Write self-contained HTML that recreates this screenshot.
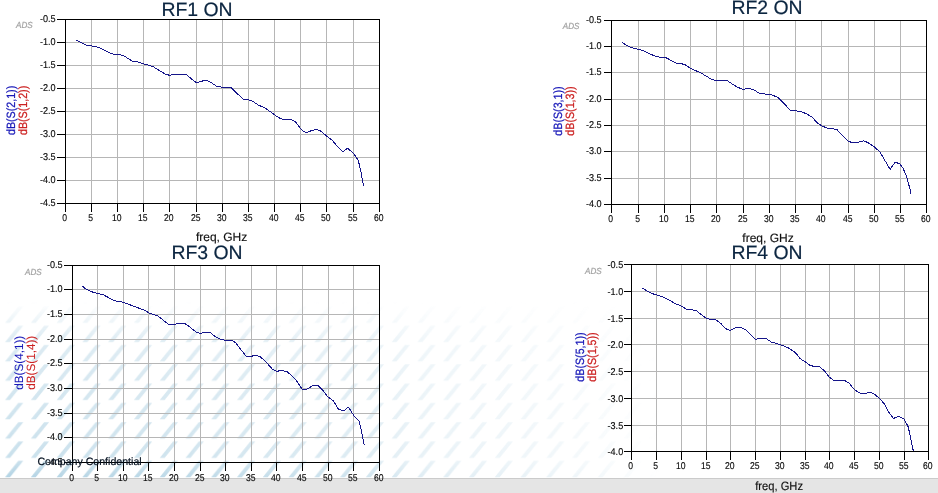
<!DOCTYPE html>
<html lang="en">
<head>
<meta charset="utf-8">
<title>RF ON insertion loss plots</title>
<style>
html,body{margin:0;padding:0;background:#fff;}
body{width:938px;height:493px;overflow:hidden;position:relative;font-family:"Liberation Sans", sans-serif;}
svg{position:absolute;left:0;top:0;display:block;}
text{font-family:"Liberation Sans", sans-serif;text-rendering:geometricPrecision;}
.grid line{stroke:#b6b6b6;stroke-width:1;shape-rendering:crispEdges;}
.axis line,.axis rect{stroke:#000;stroke-width:1.25;fill:none;shape-rendering:crispEdges;}
.tick{font-size:9.9px;fill:#0a0a0a;stroke:#0a0a0a;stroke-width:0.15px;}
.title{font-size:19.4px;fill:#0b2540;stroke:#0b2540;stroke-width:0.2px;}
.xl{font-size:12px;fill:#101010;stroke:#101010;stroke-width:0.15px;}
.yl{font-size:12px;stroke-width:0.25px;}
.ads{font-size:8.8px;font-style:italic;fill:#a2a2a2;stroke:#a2a2a2;stroke-width:0.2px;}
.curve{fill:none;stroke:#15158a;stroke-width:1;stroke-linejoin:round;shape-rendering:crispEdges;}
</style>
</head>
<body>
<svg role="img" aria-label="S-parameter plots" width="938" height="493" viewBox="0 0 938 493">
<defs>
<pattern id="wm" width="25.77" height="19.3" patternUnits="userSpaceOnUse" patternTransform="translate(4.4 440.3)">
<path d="M0.7 17.6 L5.6 17.6 L18.9 1.2 L14 1.2 Z" fill="#a8cde0"/>
</pattern>
<linearGradient id="wgh" x1="0" y1="0" x2="1" y2="0"><stop offset="0" stop-color="#fff" stop-opacity="1"/><stop offset="0.3" stop-color="#fff" stop-opacity="0.85"/><stop offset="0.55" stop-color="#fff" stop-opacity="0.62"/><stop offset="0.64" stop-color="#fff" stop-opacity="0.42"/><stop offset="0.85" stop-color="#fff" stop-opacity="0.24"/><stop offset="1" stop-color="#fff" stop-opacity="0"/></linearGradient>
<linearGradient id="wgv" x1="0" y1="0" x2="0" y2="1"><stop offset="0.06" stop-color="#fff" stop-opacity="0"/><stop offset="0.26" stop-color="#fff" stop-opacity="0.4"/><stop offset="0.55" stop-color="#fff" stop-opacity="0.52"/><stop offset="0.79" stop-color="#fff" stop-opacity="0.58"/><stop offset="0.9" stop-color="#fff" stop-opacity="0.62"/><stop offset="1" stop-color="#fff" stop-opacity="0.92"/></linearGradient>
<mask id="mh" maskUnits="userSpaceOnUse" x="0" y="280" width="660" height="200"><rect x="0" y="280" width="660" height="200" fill="url(#wgh)"/></mask>
<mask id="mv" maskUnits="userSpaceOnUse" x="0" y="280" width="660" height="200"><rect x="0" y="290" width="660" height="190" fill="url(#wgv)"/></mask>
</defs>
<g mask="url(#mh)"><rect x="0" y="285" width="660" height="193" fill="url(#wm)" mask="url(#mv)"/></g>
<rect x="0" y="478" width="938" height="15" fill="#e5e5e5"/>
<rect x="0" y="478" width="938" height="1" fill="#cbcbcb"/>
<g class="grid">
<line x1="91.5" y1="19.5" x2="91.5" y2="203.5"/><line x1="117.5" y1="19.5" x2="117.5" y2="203.5"/><line x1="143.5" y1="19.5" x2="143.5" y2="203.5"/><line x1="169.5" y1="19.5" x2="169.5" y2="203.5"/><line x1="196.5" y1="19.5" x2="196.5" y2="203.5"/><line x1="222.5" y1="19.5" x2="222.5" y2="203.5"/><line x1="248.5" y1="19.5" x2="248.5" y2="203.5"/><line x1="274.5" y1="19.5" x2="274.5" y2="203.5"/><line x1="300.5" y1="19.5" x2="300.5" y2="203.5"/><line x1="326.5" y1="19.5" x2="326.5" y2="203.5"/><line x1="353.5" y1="19.5" x2="353.5" y2="203.5"/><line x1="65.5" y1="42.5" x2="379.5" y2="42.5"/><line x1="65.5" y1="65.5" x2="379.5" y2="65.5"/><line x1="65.5" y1="88.5" x2="379.5" y2="88.5"/><line x1="65.5" y1="111.5" x2="379.5" y2="111.5"/><line x1="65.5" y1="134.5" x2="379.5" y2="134.5"/><line x1="65.5" y1="157.5" x2="379.5" y2="157.5"/><line x1="65.5" y1="180.5" x2="379.5" y2="180.5"/>
</g>
<g class="axis">
<rect x="65.5" y="19.5" width="314.0" height="184.0"/><line x1="65.5" y1="203.5" x2="65.5" y2="211.5"/><line x1="91.5" y1="203.5" x2="91.5" y2="211.5"/><line x1="117.5" y1="203.5" x2="117.5" y2="211.5"/><line x1="143.5" y1="203.5" x2="143.5" y2="211.5"/><line x1="169.5" y1="203.5" x2="169.5" y2="211.5"/><line x1="196.5" y1="203.5" x2="196.5" y2="211.5"/><line x1="222.5" y1="203.5" x2="222.5" y2="211.5"/><line x1="248.5" y1="203.5" x2="248.5" y2="211.5"/><line x1="274.5" y1="203.5" x2="274.5" y2="211.5"/><line x1="300.5" y1="203.5" x2="300.5" y2="211.5"/><line x1="326.5" y1="203.5" x2="326.5" y2="211.5"/><line x1="353.5" y1="203.5" x2="353.5" y2="211.5"/><line x1="379.5" y1="203.5" x2="379.5" y2="211.5"/><line x1="57.0" y1="19.5" x2="65.5" y2="19.5"/><line x1="57.0" y1="42.5" x2="65.5" y2="42.5"/><line x1="57.0" y1="65.5" x2="65.5" y2="65.5"/><line x1="57.0" y1="88.5" x2="65.5" y2="88.5"/><line x1="57.0" y1="111.5" x2="65.5" y2="111.5"/><line x1="57.0" y1="134.5" x2="65.5" y2="134.5"/><line x1="57.0" y1="157.5" x2="65.5" y2="157.5"/><line x1="57.0" y1="180.5" x2="65.5" y2="180.5"/><line x1="57.0" y1="203.5" x2="65.5" y2="203.5"/>
</g>
<g class="tick">
<text transform="translate(64.7 220.9) scale(0.87 1)" text-anchor="middle">0</text><text transform="translate(90.7 220.9) scale(0.87 1)" text-anchor="middle">5</text><text transform="translate(116.7 220.9) scale(0.87 1)" text-anchor="middle">10</text><text transform="translate(142.7 220.9) scale(0.87 1)" text-anchor="middle">15</text><text transform="translate(168.7 220.9) scale(0.87 1)" text-anchor="middle">20</text><text transform="translate(195.7 220.9) scale(0.87 1)" text-anchor="middle">25</text><text transform="translate(221.7 220.9) scale(0.87 1)" text-anchor="middle">30</text><text transform="translate(247.7 220.9) scale(0.87 1)" text-anchor="middle">35</text><text transform="translate(273.7 220.9) scale(0.87 1)" text-anchor="middle">40</text><text transform="translate(299.7 220.9) scale(0.87 1)" text-anchor="middle">45</text><text transform="translate(325.7 220.9) scale(0.87 1)" text-anchor="middle">50</text><text transform="translate(352.7 220.9) scale(0.87 1)" text-anchor="middle">55</text><text transform="translate(378.7 220.9) scale(0.87 1)" text-anchor="middle">60</text><text transform="translate(55.6 22.1) scale(0.92 1)" text-anchor="end">-0.5</text><text transform="translate(55.6 45.1) scale(0.92 1)" text-anchor="end">-1.0</text><text transform="translate(55.6 68.1) scale(0.92 1)" text-anchor="end">-1.5</text><text transform="translate(55.6 91.1) scale(0.92 1)" text-anchor="end">-2.0</text><text transform="translate(55.6 114.1) scale(0.92 1)" text-anchor="end">-2.5</text><text transform="translate(55.6 137.1) scale(0.92 1)" text-anchor="end">-3.0</text><text transform="translate(55.6 160.1) scale(0.92 1)" text-anchor="end">-3.5</text><text transform="translate(55.6 183.1) scale(0.92 1)" text-anchor="end">-4.0</text><text transform="translate(55.6 206.1) scale(0.92 1)" text-anchor="end">-4.5</text>
</g>
<text class="title" x="197.0" y="16.0" text-anchor="middle">RF1 ON</text>
<text class="xl" transform="translate(221.6 240.8) scale(1.00 1)" text-anchor="middle">freq, GHz</text>
<text class="ads" transform="translate(16.0 28.0) scale(0.92 1)">ADS</text>
<text class="yl" style="fill:#1818b8;stroke:#1818b8;stroke-width:0.25px" transform="translate(15.3 110.4) rotate(-90) scale(0.890 1)" text-anchor="middle">dB(S(2,1))</text>
<text class="yl" style="fill:#cc2222;stroke:#cc2222;stroke-width:0.25px" transform="translate(27.1 110.4) rotate(-90) scale(0.890 1)" text-anchor="middle">dB(S(1,2))</text>
<polyline class="curve" style="stroke:#cc2222" points="76.4,40.3 85.9,45.0 91.5,46.0 96.2,46.7 100.5,48.1 110.0,52.9 114.3,54.3 119.5,54.5 124.7,56.4 132.4,61.2 136.7,61.7 143.6,64.0 147.9,65.0 153.1,66.6 160.0,71.0 165.2,74.0 169.5,75.3 173.8,74.5 179.8,74.0 186.7,74.8 192.8,80.0 196.5,82.6 201.4,81.2 206.6,80.3 210.3,82.0 216.6,86.2 222.4,87.2 231.0,87.4 243.1,99.3 249.1,100.0 253.4,101.7 258.6,105.3 264.7,107.6 274.5,114.8 280.5,118.7 283.5,119.4 291.2,119.4 295.0,121.4 301.5,129.7 305.8,132.8 312.0,130.4 316.5,129.3 321.0,131.2 326.5,136.0 332.2,140.2 336.5,145.5 342.8,151.6 347.6,148.3 353.1,152.9 358.3,160.2 360.9,171.9 363.6,185.7"/>
<polyline class="curve" points="76.4,40.3 85.9,45.0 91.5,46.0 96.2,46.7 100.5,48.1 110.0,52.9 114.3,54.3 119.5,54.5 124.7,56.4 132.4,61.2 136.7,61.7 143.6,64.0 147.9,65.0 153.1,66.6 160.0,71.0 165.2,74.0 169.5,75.3 173.8,74.5 179.8,74.0 186.7,74.8 192.8,80.0 196.5,82.6 201.4,81.2 206.6,80.3 210.3,82.0 216.6,86.2 222.4,87.2 231.0,87.4 243.1,99.3 249.1,100.0 253.4,101.7 258.6,105.3 264.7,107.6 274.5,114.8 280.5,118.7 283.5,119.4 291.2,119.4 295.0,121.4 301.5,129.7 305.8,132.8 312.0,130.4 316.5,129.3 321.0,131.2 326.5,136.0 332.2,140.2 336.5,145.5 342.8,151.6 347.6,148.3 353.1,152.9 358.3,160.2 360.9,171.9 363.6,185.7"/>
<g class="grid">
<line x1="638.5" y1="20.5" x2="638.5" y2="204.5"/><line x1="664.5" y1="20.5" x2="664.5" y2="204.5"/><line x1="690.5" y1="20.5" x2="690.5" y2="204.5"/><line x1="716.5" y1="20.5" x2="716.5" y2="204.5"/><line x1="743.5" y1="20.5" x2="743.5" y2="204.5"/><line x1="769.5" y1="20.5" x2="769.5" y2="204.5"/><line x1="795.5" y1="20.5" x2="795.5" y2="204.5"/><line x1="821.5" y1="20.5" x2="821.5" y2="204.5"/><line x1="848.5" y1="20.5" x2="848.5" y2="204.5"/><line x1="874.5" y1="20.5" x2="874.5" y2="204.5"/><line x1="900.5" y1="20.5" x2="900.5" y2="204.5"/><line x1="611.5" y1="46.5" x2="926.5" y2="46.5"/><line x1="611.5" y1="72.5" x2="926.5" y2="72.5"/><line x1="611.5" y1="99.5" x2="926.5" y2="99.5"/><line x1="611.5" y1="125.5" x2="926.5" y2="125.5"/><line x1="611.5" y1="151.5" x2="926.5" y2="151.5"/><line x1="611.5" y1="178.5" x2="926.5" y2="178.5"/>
</g>
<g class="axis">
<rect x="611.5" y="20.5" width="315.0" height="184.0"/><line x1="611.5" y1="204.5" x2="611.5" y2="212.5"/><line x1="638.5" y1="204.5" x2="638.5" y2="212.5"/><line x1="664.5" y1="204.5" x2="664.5" y2="212.5"/><line x1="690.5" y1="204.5" x2="690.5" y2="212.5"/><line x1="716.5" y1="204.5" x2="716.5" y2="212.5"/><line x1="743.5" y1="204.5" x2="743.5" y2="212.5"/><line x1="769.5" y1="204.5" x2="769.5" y2="212.5"/><line x1="795.5" y1="204.5" x2="795.5" y2="212.5"/><line x1="821.5" y1="204.5" x2="821.5" y2="212.5"/><line x1="848.5" y1="204.5" x2="848.5" y2="212.5"/><line x1="874.5" y1="204.5" x2="874.5" y2="212.5"/><line x1="900.5" y1="204.5" x2="900.5" y2="212.5"/><line x1="926.5" y1="204.5" x2="926.5" y2="212.5"/><line x1="604.0" y1="20.5" x2="611.5" y2="20.5"/><line x1="604.0" y1="46.5" x2="611.5" y2="46.5"/><line x1="604.0" y1="72.5" x2="611.5" y2="72.5"/><line x1="604.0" y1="99.5" x2="611.5" y2="99.5"/><line x1="604.0" y1="125.5" x2="611.5" y2="125.5"/><line x1="604.0" y1="151.5" x2="611.5" y2="151.5"/><line x1="604.0" y1="178.5" x2="611.5" y2="178.5"/><line x1="604.0" y1="204.5" x2="611.5" y2="204.5"/>
</g>
<g class="tick">
<text transform="translate(610.7 221.9) scale(0.87 1)" text-anchor="middle">0</text><text transform="translate(637.7 221.9) scale(0.87 1)" text-anchor="middle">5</text><text transform="translate(663.7 221.9) scale(0.87 1)" text-anchor="middle">10</text><text transform="translate(689.7 221.9) scale(0.87 1)" text-anchor="middle">15</text><text transform="translate(715.7 221.9) scale(0.87 1)" text-anchor="middle">20</text><text transform="translate(742.7 221.9) scale(0.87 1)" text-anchor="middle">25</text><text transform="translate(768.7 221.9) scale(0.87 1)" text-anchor="middle">30</text><text transform="translate(794.7 221.9) scale(0.87 1)" text-anchor="middle">35</text><text transform="translate(820.7 221.9) scale(0.87 1)" text-anchor="middle">40</text><text transform="translate(847.7 221.9) scale(0.87 1)" text-anchor="middle">45</text><text transform="translate(873.7 221.9) scale(0.87 1)" text-anchor="middle">50</text><text transform="translate(899.7 221.9) scale(0.87 1)" text-anchor="middle">55</text><text transform="translate(925.7 221.9) scale(0.87 1)" text-anchor="middle">60</text><text transform="translate(601.6 23.1) scale(0.92 1)" text-anchor="end">-0.5</text><text transform="translate(601.6 49.1) scale(0.92 1)" text-anchor="end">-1.0</text><text transform="translate(601.6 75.1) scale(0.92 1)" text-anchor="end">-1.5</text><text transform="translate(601.6 102.1) scale(0.92 1)" text-anchor="end">-2.0</text><text transform="translate(601.6 128.1) scale(0.92 1)" text-anchor="end">-2.5</text><text transform="translate(601.6 154.1) scale(0.92 1)" text-anchor="end">-3.0</text><text transform="translate(601.6 181.1) scale(0.92 1)" text-anchor="end">-3.5</text><text transform="translate(601.6 207.1) scale(0.92 1)" text-anchor="end">-4.0</text>
</g>
<text class="title" x="767.0" y="14.0" text-anchor="middle">RF2 ON</text>
<text class="xl" transform="translate(768.0 242.0) scale(1.00 1)" text-anchor="middle">freq, GHz</text>
<text class="ads" transform="translate(562.8 29.2) scale(0.92 1)">ADS</text>
<text class="yl" style="fill:#1818b8;stroke:#1818b8;stroke-width:0.25px" transform="translate(562.0 111.0) rotate(-90) scale(0.890 1)" text-anchor="middle">dB(S(3,1))</text>
<text class="yl" style="fill:#cc2222;stroke:#cc2222;stroke-width:0.25px" transform="translate(574.0 111.0) rotate(-90) scale(0.890 1)" text-anchor="middle">dB(S(1,3))</text>
<polyline class="curve" style="stroke:#cc2222" points="622.1,42.4 627.6,45.9 633.6,48.3 641.4,50.0 655.2,56.2 659.5,57.2 665.2,57.4 669.8,59.7 676.7,63.4 681.0,63.6 685.3,64.8 690.5,68.3 701.7,73.4 710.3,78.6 714.7,80.3 726.7,80.3 731.9,83.8 737.5,87.3 742.7,89.2 749.0,88.6 753.3,89.5 760.2,93.8 770.5,94.3 778.3,97.6 790.3,110.2 800.7,111.4 806.7,114.0 811.9,116.9 817.1,122.6 821.3,125.6 827.0,128.1 836.7,129.4 848.8,141.5 853.1,142.8 858.3,142.3 863.5,140.8 867.8,142.5 874.2,146.8 879.8,151.8 890.1,169.3 895.2,162.1 899.6,163.8 903.0,168.1 906.4,175.9 910.4,190.5 910.6,194.0"/>
<polyline class="curve" points="622.1,42.4 627.6,45.9 633.6,48.3 641.4,50.0 655.2,56.2 659.5,57.2 665.2,57.4 669.8,59.7 676.7,63.4 681.0,63.6 685.3,64.8 690.5,68.3 701.7,73.4 710.3,78.6 714.7,80.3 726.7,80.3 731.9,83.8 737.5,87.3 742.7,89.2 749.0,88.6 753.3,89.5 760.2,93.8 770.5,94.3 778.3,97.6 790.3,110.2 800.7,111.4 806.7,114.0 811.9,116.9 817.1,122.6 821.3,125.6 827.0,128.1 836.7,129.4 848.8,141.5 853.1,142.8 858.3,142.3 863.5,140.8 867.8,142.5 874.2,146.8 879.8,151.8 890.1,169.3 895.2,162.1 899.6,163.8 903.0,168.1 906.4,175.9 910.4,190.5 910.6,194.0"/>
<g class="grid">
<line x1="97.5" y1="265.5" x2="97.5" y2="462.5"/><line x1="123.5" y1="265.5" x2="123.5" y2="462.5"/><line x1="148.5" y1="265.5" x2="148.5" y2="462.5"/><line x1="174.5" y1="265.5" x2="174.5" y2="462.5"/><line x1="200.5" y1="265.5" x2="200.5" y2="462.5"/><line x1="225.5" y1="265.5" x2="225.5" y2="462.5"/><line x1="251.5" y1="265.5" x2="251.5" y2="462.5"/><line x1="276.5" y1="265.5" x2="276.5" y2="462.5"/><line x1="302.5" y1="265.5" x2="302.5" y2="462.5"/><line x1="328.5" y1="265.5" x2="328.5" y2="462.5"/><line x1="353.5" y1="265.5" x2="353.5" y2="462.5"/><line x1="72.5" y1="289.5" x2="379.5" y2="289.5"/><line x1="72.5" y1="314.5" x2="379.5" y2="314.5"/><line x1="72.5" y1="339.5" x2="379.5" y2="339.5"/><line x1="72.5" y1="363.5" x2="379.5" y2="363.5"/><line x1="72.5" y1="388.5" x2="379.5" y2="388.5"/><line x1="72.5" y1="413.5" x2="379.5" y2="413.5"/><line x1="72.5" y1="437.5" x2="379.5" y2="437.5"/>
</g>
<g class="axis">
<rect x="72.5" y="265.5" width="307.0" height="197.0"/><line x1="72.5" y1="462.5" x2="72.5" y2="470.5"/><line x1="97.5" y1="462.5" x2="97.5" y2="470.5"/><line x1="123.5" y1="462.5" x2="123.5" y2="470.5"/><line x1="148.5" y1="462.5" x2="148.5" y2="470.5"/><line x1="174.5" y1="462.5" x2="174.5" y2="470.5"/><line x1="200.5" y1="462.5" x2="200.5" y2="470.5"/><line x1="225.5" y1="462.5" x2="225.5" y2="470.5"/><line x1="251.5" y1="462.5" x2="251.5" y2="470.5"/><line x1="276.5" y1="462.5" x2="276.5" y2="470.5"/><line x1="302.5" y1="462.5" x2="302.5" y2="470.5"/><line x1="328.5" y1="462.5" x2="328.5" y2="470.5"/><line x1="353.5" y1="462.5" x2="353.5" y2="470.5"/><line x1="379.5" y1="462.5" x2="379.5" y2="470.5"/><line x1="64.0" y1="265.5" x2="72.5" y2="265.5"/><line x1="64.0" y1="289.5" x2="72.5" y2="289.5"/><line x1="64.0" y1="314.5" x2="72.5" y2="314.5"/><line x1="64.0" y1="339.5" x2="72.5" y2="339.5"/><line x1="64.0" y1="363.5" x2="72.5" y2="363.5"/><line x1="64.0" y1="388.5" x2="72.5" y2="388.5"/><line x1="64.0" y1="413.5" x2="72.5" y2="413.5"/><line x1="64.0" y1="437.5" x2="72.5" y2="437.5"/><line x1="64.0" y1="462.5" x2="72.5" y2="462.5"/>
</g>
<g class="tick">
<text transform="translate(71.7 481.0) scale(0.87 1)" text-anchor="middle">0</text><text transform="translate(96.7 481.0) scale(0.87 1)" text-anchor="middle">5</text><text transform="translate(122.7 481.0) scale(0.87 1)" text-anchor="middle">10</text><text transform="translate(147.7 481.0) scale(0.87 1)" text-anchor="middle">15</text><text transform="translate(173.7 481.0) scale(0.87 1)" text-anchor="middle">20</text><text transform="translate(199.7 481.0) scale(0.87 1)" text-anchor="middle">25</text><text transform="translate(224.7 481.0) scale(0.87 1)" text-anchor="middle">30</text><text transform="translate(250.7 481.0) scale(0.87 1)" text-anchor="middle">35</text><text transform="translate(275.7 481.0) scale(0.87 1)" text-anchor="middle">40</text><text transform="translate(301.7 481.0) scale(0.87 1)" text-anchor="middle">45</text><text transform="translate(327.7 481.0) scale(0.87 1)" text-anchor="middle">50</text><text transform="translate(352.7 481.0) scale(0.87 1)" text-anchor="middle">55</text><text transform="translate(378.7 481.0) scale(0.87 1)" text-anchor="middle">60</text><text transform="translate(62.6 268.1) scale(0.92 1)" text-anchor="end">-0.5</text><text transform="translate(62.6 292.1) scale(0.92 1)" text-anchor="end">-1.0</text><text transform="translate(62.6 317.1) scale(0.92 1)" text-anchor="end">-1.5</text><text transform="translate(62.6 342.1) scale(0.92 1)" text-anchor="end">-2.0</text><text transform="translate(62.6 366.1) scale(0.92 1)" text-anchor="end">-2.5</text><text transform="translate(62.6 391.1) scale(0.92 1)" text-anchor="end">-3.0</text><text transform="translate(62.6 416.1) scale(0.92 1)" text-anchor="end">-3.5</text><text transform="translate(62.6 440.1) scale(0.92 1)" text-anchor="end">-4.0</text><text transform="translate(62.6 465.1) scale(0.92 1)" text-anchor="end">-4.5</text>
</g>
<text class="title" x="207.0" y="259.0" text-anchor="middle">RF3 ON</text>
<text class="ads" transform="translate(25.0 275.0) scale(0.92 1)">ADS</text>
<text class="yl" style="fill:#1818b8;stroke:#1818b8;stroke-width:0.05px" transform="translate(23.0 362.8) rotate(-90) scale(0.975 1)" text-anchor="middle">dB(S(4,1))</text>
<text class="yl" style="fill:#cc2222;stroke:#cc2222;stroke-width:0.05px" transform="translate(35.0 362.8) rotate(-90) scale(0.975 1)" text-anchor="middle">dB(S(1,4))</text>
<polyline class="curve" style="stroke:#cc2222" points="82.1,286.0 85.9,289.0 92.8,292.1 103.1,294.7 114.3,300.7 123.8,302.4 135.0,306.7 144.5,310.2 149.7,313.3 157.4,315.7 168.6,324.3 174.7,324.5 178.1,323.4 185.0,323.6 189.3,326.6 196.2,332.1 200.3,333.4 204.5,332.3 210.2,332.5 215.8,337.1 220.5,339.2 225.9,340.5 231.9,340.5 235.3,342.4 241.4,350.2 246.2,356.2 251.7,356.2 256.0,355.2 260.3,356.9 265.5,361.4 272.6,369.5 277.0,371.3 281.7,370.4 286.9,371.6 293.0,376.7 297.2,381.7 302.6,389.9 307.6,388.9 312.8,385.4 318.0,385.5 322.2,389.6 328.1,397.1 333.3,400.7 338.4,409.1 343.6,411.0 348.4,407.1 354.0,415.7 359.1,421.4 361.7,432.1 364.3,445.5"/>
<polyline class="curve" points="82.1,286.0 85.9,289.0 92.8,292.1 103.1,294.7 114.3,300.7 123.8,302.4 135.0,306.7 144.5,310.2 149.7,313.3 157.4,315.7 168.6,324.3 174.7,324.5 178.1,323.4 185.0,323.6 189.3,326.6 196.2,332.1 200.3,333.4 204.5,332.3 210.2,332.5 215.8,337.1 220.5,339.2 225.9,340.5 231.9,340.5 235.3,342.4 241.4,350.2 246.2,356.2 251.7,356.2 256.0,355.2 260.3,356.9 265.5,361.4 272.6,369.5 277.0,371.3 281.7,370.4 286.9,371.6 293.0,376.7 297.2,381.7 302.6,389.9 307.6,388.9 312.8,385.4 318.0,385.5 322.2,389.6 328.1,397.1 333.3,400.7 338.4,409.1 343.6,411.0 348.4,407.1 354.0,415.7 359.1,421.4 361.7,432.1 364.3,445.5"/>
<g class="grid">
<line x1="656.5" y1="264.5" x2="656.5" y2="451.5"/><line x1="681.5" y1="264.5" x2="681.5" y2="451.5"/><line x1="706.5" y1="264.5" x2="706.5" y2="451.5"/><line x1="730.5" y1="264.5" x2="730.5" y2="451.5"/><line x1="755.5" y1="264.5" x2="755.5" y2="451.5"/><line x1="780.5" y1="264.5" x2="780.5" y2="451.5"/><line x1="805.5" y1="264.5" x2="805.5" y2="451.5"/><line x1="829.5" y1="264.5" x2="829.5" y2="451.5"/><line x1="854.5" y1="264.5" x2="854.5" y2="451.5"/><line x1="879.5" y1="264.5" x2="879.5" y2="451.5"/><line x1="904.5" y1="264.5" x2="904.5" y2="451.5"/><line x1="631.5" y1="291.5" x2="928.5" y2="291.5"/><line x1="631.5" y1="318.5" x2="928.5" y2="318.5"/><line x1="631.5" y1="344.5" x2="928.5" y2="344.5"/><line x1="631.5" y1="371.5" x2="928.5" y2="371.5"/><line x1="631.5" y1="398.5" x2="928.5" y2="398.5"/><line x1="631.5" y1="425.5" x2="928.5" y2="425.5"/>
</g>
<g class="axis">
<rect x="631.5" y="264.5" width="297.0" height="187.0"/><line x1="631.5" y1="451.5" x2="631.5" y2="459.5"/><line x1="656.5" y1="451.5" x2="656.5" y2="459.5"/><line x1="681.5" y1="451.5" x2="681.5" y2="459.5"/><line x1="706.5" y1="451.5" x2="706.5" y2="459.5"/><line x1="730.5" y1="451.5" x2="730.5" y2="459.5"/><line x1="755.5" y1="451.5" x2="755.5" y2="459.5"/><line x1="780.5" y1="451.5" x2="780.5" y2="459.5"/><line x1="805.5" y1="451.5" x2="805.5" y2="459.5"/><line x1="829.5" y1="451.5" x2="829.5" y2="459.5"/><line x1="854.5" y1="451.5" x2="854.5" y2="459.5"/><line x1="879.5" y1="451.5" x2="879.5" y2="459.5"/><line x1="904.5" y1="451.5" x2="904.5" y2="459.5"/><line x1="928.5" y1="451.5" x2="928.5" y2="459.5"/><line x1="624.0" y1="264.5" x2="631.5" y2="264.5"/><line x1="624.0" y1="291.5" x2="631.5" y2="291.5"/><line x1="624.0" y1="318.5" x2="631.5" y2="318.5"/><line x1="624.0" y1="344.5" x2="631.5" y2="344.5"/><line x1="624.0" y1="371.5" x2="631.5" y2="371.5"/><line x1="624.0" y1="398.5" x2="631.5" y2="398.5"/><line x1="624.0" y1="425.5" x2="631.5" y2="425.5"/><line x1="624.0" y1="451.5" x2="631.5" y2="451.5"/>
</g>
<g class="tick">
<text transform="translate(630.7 468.9) scale(0.87 1)" text-anchor="middle">0</text><text transform="translate(655.7 468.9) scale(0.87 1)" text-anchor="middle">5</text><text transform="translate(680.7 468.9) scale(0.87 1)" text-anchor="middle">10</text><text transform="translate(705.7 468.9) scale(0.87 1)" text-anchor="middle">15</text><text transform="translate(729.7 468.9) scale(0.87 1)" text-anchor="middle">20</text><text transform="translate(754.7 468.9) scale(0.87 1)" text-anchor="middle">25</text><text transform="translate(779.7 468.9) scale(0.87 1)" text-anchor="middle">30</text><text transform="translate(804.7 468.9) scale(0.87 1)" text-anchor="middle">35</text><text transform="translate(828.7 468.9) scale(0.87 1)" text-anchor="middle">40</text><text transform="translate(853.7 468.9) scale(0.87 1)" text-anchor="middle">45</text><text transform="translate(878.7 468.9) scale(0.87 1)" text-anchor="middle">50</text><text transform="translate(903.7 468.9) scale(0.87 1)" text-anchor="middle">55</text><text transform="translate(927.7 468.9) scale(0.87 1)" text-anchor="middle">60</text><text transform="translate(623.2 268.0) scale(0.92 1)" text-anchor="end">-0.5</text><text transform="translate(623.2 295.0) scale(0.92 1)" text-anchor="end">-1.0</text><text transform="translate(623.2 322.0) scale(0.92 1)" text-anchor="end">-1.5</text><text transform="translate(623.2 348.0) scale(0.92 1)" text-anchor="end">-2.0</text><text transform="translate(623.2 375.0) scale(0.92 1)" text-anchor="end">-2.5</text><text transform="translate(623.2 402.0) scale(0.92 1)" text-anchor="end">-3.0</text><text transform="translate(623.2 429.0) scale(0.92 1)" text-anchor="end">-3.5</text><text transform="translate(623.2 455.0) scale(0.92 1)" text-anchor="end">-4.0</text>
</g>
<text class="title" x="767.0" y="259.0" text-anchor="middle">RF4 ON</text>
<text class="xl" transform="translate(779.1 489.7) scale(0.93 1)" text-anchor="middle">freq, GHz</text>
<text class="ads" transform="translate(585.0 273.7) scale(0.92 1)">ADS</text>
<text class="yl" style="fill:#1818b8;stroke:#1818b8;stroke-width:0.25px" transform="translate(584.3 357.0) rotate(-90) scale(0.890 1)" text-anchor="middle">dB(S(5,1))</text>
<text class="yl" style="fill:#cc2222;stroke:#cc2222;stroke-width:0.25px" transform="translate(596.3 357.0) rotate(-90) scale(0.890 1)" text-anchor="middle">dB(S(1,5))</text>
<polyline class="curve" style="stroke:#cc2222" points="642.4,288.1 647.6,291.2 653.6,294.1 663.1,296.9 668.3,299.5 675.2,303.6 681.2,306.0 686.4,309.1 691.6,309.7 696.7,311.0 706.2,318.3 710.5,319.3 715.7,319.7 720.9,323.6 726.0,328.8 730.3,330.5 735.5,327.8 740.5,327.2 745.5,329.8 755.6,339.4 759.8,338.2 766.0,338.5 771.0,341.9 780.5,344.7 788.3,347.9 795.2,352.4 800.3,358.8 805.5,361.9 809.8,365.3 814.1,366.4 819.3,366.4 824.5,370.9 829.2,377.0 833.5,380.2 844.4,380.3 849.0,383.0 854.7,390.0 860.5,393.2 865.0,393.5 869.4,392.3 873.7,393.5 879.5,398.5 884.3,403.8 889.2,412.9 893.5,418.4 898.7,416.2 903.9,419.0 908.2,426.7 913.3,450.9"/>
<polyline class="curve" points="642.4,288.1 647.6,291.2 653.6,294.1 663.1,296.9 668.3,299.5 675.2,303.6 681.2,306.0 686.4,309.1 691.6,309.7 696.7,311.0 706.2,318.3 710.5,319.3 715.7,319.7 720.9,323.6 726.0,328.8 730.3,330.5 735.5,327.8 740.5,327.2 745.5,329.8 755.6,339.4 759.8,338.2 766.0,338.5 771.0,341.9 780.5,344.7 788.3,347.9 795.2,352.4 800.3,358.8 805.5,361.9 809.8,365.3 814.1,366.4 819.3,366.4 824.5,370.9 829.2,377.0 833.5,380.2 844.4,380.3 849.0,383.0 854.7,390.0 860.5,393.2 865.0,393.5 869.4,392.3 873.7,393.5 879.5,398.5 884.3,403.8 889.2,412.9 893.5,418.4 898.7,416.2 903.9,419.0 908.2,426.7 913.3,450.9"/>
<text x="37.4" y="464.6" style="font-size:10.6px;fill:#071322;stroke:#071322;stroke-width:0.2px">Company Confidential</text>
</svg>
</body>
</html>
